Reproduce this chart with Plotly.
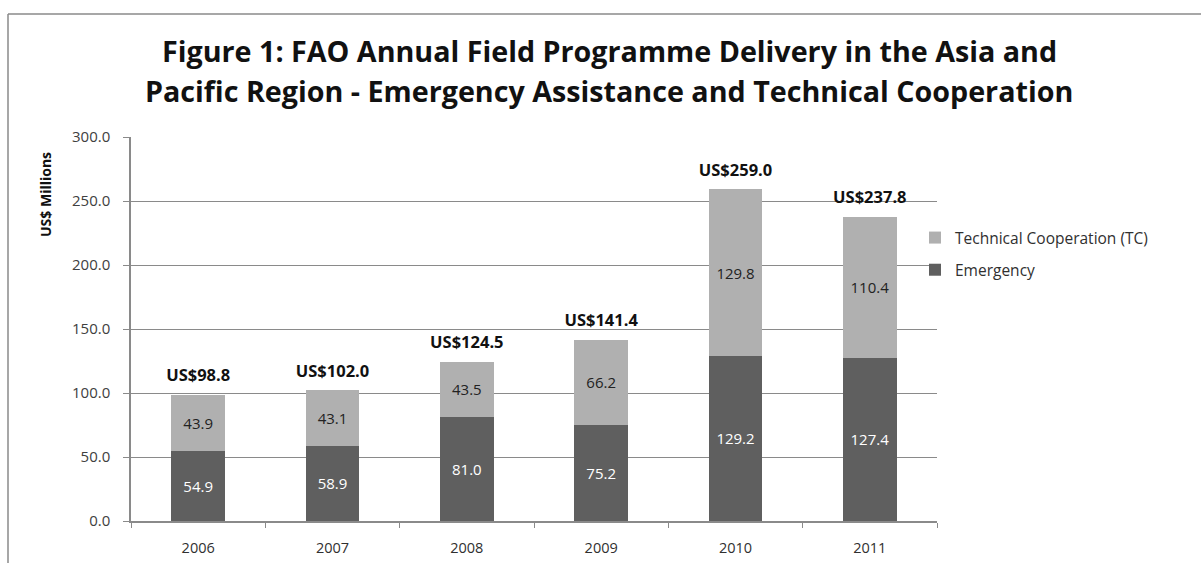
import plotly.graph_objects as go

years = ["2006", "2007", "2008", "2009", "2010", "2011"]
emergency = [54.9, 58.9, 81.0, 75.2, 129.2, 127.4]
technical = [43.9, 43.1, 43.5, 66.2, 129.8, 110.4]
totals = [98.8, 102.0, 124.5, 141.4, 259.0, 237.8]
y_ticks = [0, 50, 100, 150, 200, 250, 300]

FONT = "Open Sans, sans-serif"
L, R, T, B = 131, 937, 137, 521  # plot area in pixels
PW, PH = R - L, B - T

def px(x):
    return (x - L) / PW

def py(y):
    return (B - y) / PH

fig = go.Figure()
fig.add_trace(go.Bar(
    x=years, y=emergency, name="Emergency",
    marker=dict(color="#5f5f5f", line=dict(width=0)),
    text=[f"{v:.1f}" for v in emergency], textposition="inside",
    insidetextanchor="middle", textangle=0,
    textfont=dict(color="white", size=15, family=FONT),
    legendgroup="e", legendrank=2,
))
fig.add_trace(go.Bar(
    x=years, y=technical, name="Technical Cooperation (TC)",
    marker=dict(color="#b0b0b0", line=dict(width=0)),
    text=[f"{v:.1f}" for v in technical], textposition="inside",
    insidetextanchor="middle", textangle=0,
    textfont=dict(color="#222222", size=15, family=FONT),
    legendgroup="t", legendrank=1,
))
fig.add_trace(go.Scatter(
    x=years, y=totals, mode="markers+text",
    marker=dict(size=14, opacity=0),
    text=[f"<b>US${t:.1f}</b>" for t in totals], textposition="top center",
    textfont=dict(size=16.5, color="#111111", family=FONT),
    showlegend=False, cliponaxis=False, hoverinfo="skip",
))

title_lines = [
    "Figure 1: FAO Annual Field Programme Delivery in the Asia and",
    "Pacific Region - Emergency Assistance and Technical Cooperation",
]
for line, yy in zip(title_lines, [50, 91]):
    fig.add_annotation(
        xref="paper", yref="paper", x=px(609), y=py(yy),
        text=f"<b>{line}</b>", showarrow=False,
        xanchor="center", yanchor="middle",
        font=dict(size=28.7, color="#111111", family=FONT),
    )

fig.add_annotation(
    xref="paper", yref="paper", x=px(45), y=py(195),
    text="<b>US$ Millions</b>", showarrow=False, textangle=-90,
    xanchor="center", yanchor="middle",
    font=dict(size=14, color="#111111", family=FONT),
)

# outer frame
fig.add_shape(type="line", xref="paper", yref="paper",
              x0=px(8), x1=px(1201), y0=py(14), y1=py(14),
              line=dict(color="#8a8a8a", width=1.5))
fig.add_shape(type="line", xref="paper", yref="paper",
              x0=px(8), x1=px(8), y0=py(14), y1=py(563),
              line=dict(color="#8a8a8a", width=1.5))

fig.update_layout(
    width=1201, height=563,
    margin=dict(l=L, r=1201 - R, t=T, b=563 - B),
    barmode="stack", bargap=0.6,
    plot_bgcolor="white", paper_bgcolor="white",
    font=dict(family=FONT, color="#404040", size=13),
    showlegend=True,
    legend=dict(x=px(915), y=py(221), xanchor="left", yanchor="top",
                bgcolor="rgba(0,0,0,0)",
                traceorder="grouped", tracegroupgap=9,
                font=dict(size=15.5, color="#303030", family=FONT),
                itemwidth=30),
    xaxis=dict(
        type="category", automargin=False,
        showline=True, linecolor="#8a8a8a", linewidth=1.5,
        ticks="outside", tickson="boundaries", ticklen=5, tickcolor="#8a8a8a",
        ticklabelstandoff=13,
        tickfont=dict(size=14.5, color="#303030"),
    ),
    yaxis=dict(
        range=[0, 300], tickvals=y_ticks, tickformat=".1f", automargin=False,
        showgrid=True, gridcolor="#8a8a8a", gridwidth=1,
        showline=True, linecolor="#8a8a8a", linewidth=1.5,
        ticks="outside", ticklen=6, tickcolor="#8a8a8a",
        ticklabelstandoff=10,
        tickfont=dict(size=15, color="#404040"),
        zeroline=False,
    ),
)

fig.write_html("out.html")
